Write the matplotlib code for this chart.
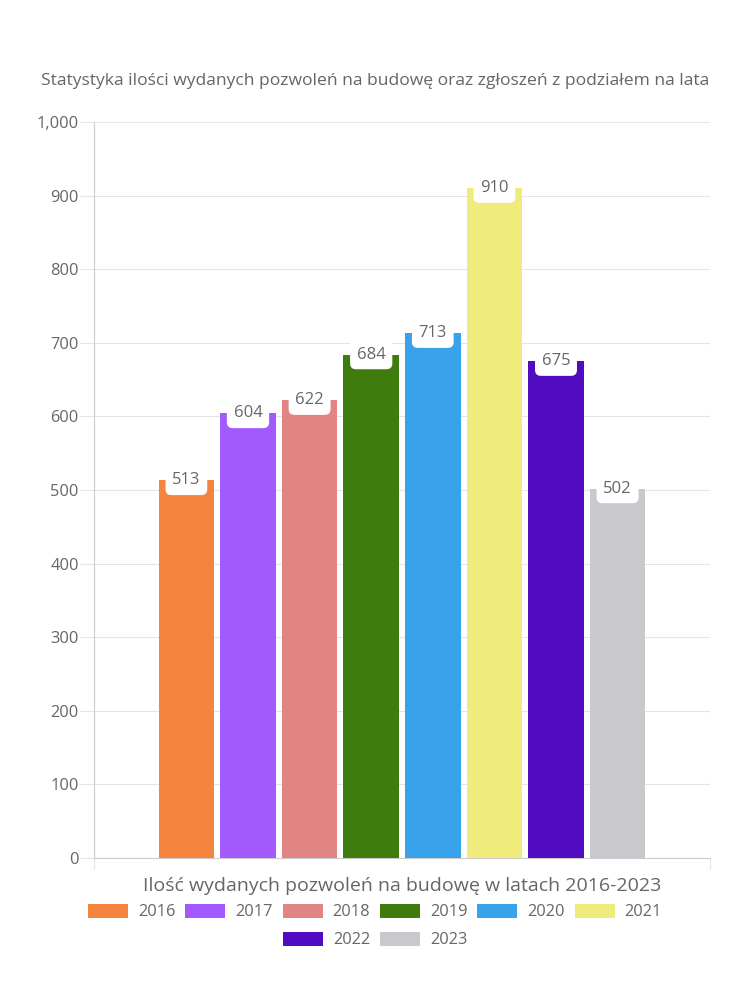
import matplotlib.pyplot as plt
from matplotlib.patches import Patch
from matplotlib.ticker import FuncFormatter

# data
years = ['2016', '2017', '2018', '2019', '2020', '2021', '2022', '2023']
permits = [513, 604, 622, 684, 713, 910, 675, 502]
colors = ['#f5843f', '#a259fe', '#e08484', '#3e7d0d', '#38a3eb', '#f0eb7d', '#510cc2', '#c9c9cd']

title = 'Statystyka ilości wydanych pozwoleń na budowę oraz zgłoszeń z podziałem na lata'
xlabel = 'Ilość wydanych pozwoleń na budowę w latach 2016-2023'

plt.rcParams['font.family'] = ['Open Sans', 'DejaVu Sans']
txt = '#666666'
grid = '#e4e4e4'

fig = plt.figure(figsize=(7.5, 10), dpi=100)
ax = fig.add_axes([94/750, 142/1000, 616/750, 736/1000])

n = len(years)
pitch = 0.8 / n
width = pitch * 0.9
for i, (y, v, c) in enumerate(zip(years, permits, colors)):
    x = (i - (n - 1) / 2) * pitch
    ax.bar(x, v, width=width, color=c, zorder=3, label=y)
    ax.annotate(str(v), (x, v), ha='center', va='center', fontsize=12, color=txt, zorder=5,
                bbox=dict(boxstyle='round,pad=0.4,rounding_size=0.35', fc='white', ec='none'))

ax.set_xlim(-0.5, 0.5)
ax.set_ylim(0, 1000)
ax.set_yticks(range(0, 1001, 100))
ax.yaxis.set_major_formatter(FuncFormatter(lambda v, p: f'{int(v):,}'))
ax.set_xticks([-0.5, 0.5])
ax.set_xticklabels(['', ''])
ax.grid(True, color=grid, lw=0.8, zorder=0)
ax.tick_params(axis='y', length=10, color=grid, labelcolor=txt, labelsize=11.8, pad=1)
ax.tick_params(axis='x', length=8, color=grid)
for s in ['top', 'right']:
    ax.spines[s].set_visible(False)
ax.spines['left'].set_color('#cccccc')
ax.spines['bottom'].set_color('#cccccc')

ax.set_xlabel(xlabel, fontsize=14, color=txt, labelpad=2)
fig.text(0.5 + 0.0, 1 - 81/1000, title, ha='center', va='center', fontsize=12.6, color=txt)

handles = [Patch(fc=c, ec='none') for c in colors]
kw = dict(frameon=False, prop={'size': 11.8}, labelcolor=txt, handlelength=2.45, handleheight=1.0,
          handletextpad=0.6, columnspacing=0.6, loc='center')
leg1 = fig.legend(handles[:6], years[:6], ncol=6, bbox_to_anchor=(0.5, 1 - 912/1000), **kw)
fig.legend(handles[6:], years[6:], ncol=2, bbox_to_anchor=(0.5, 1 - 940/1000), **kw)

fig.savefig('out.png', dpi=100)
